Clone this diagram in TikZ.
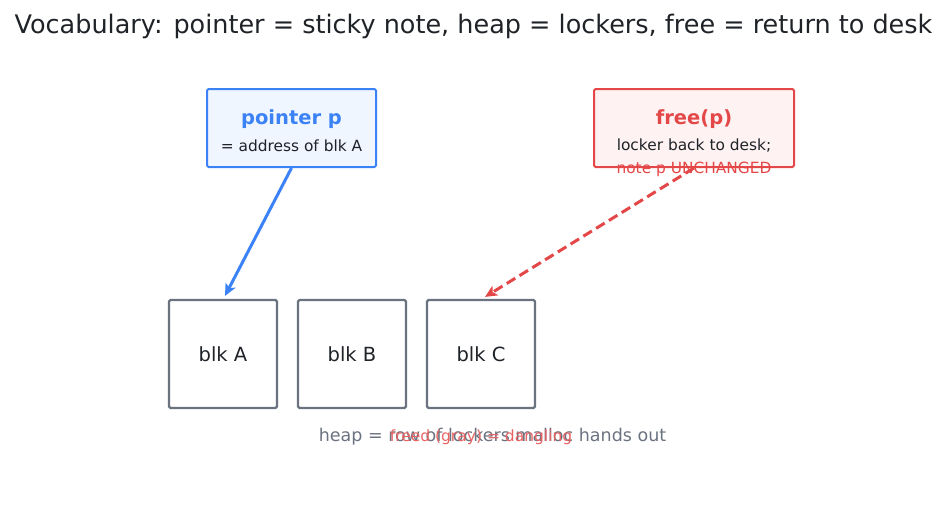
\documentclass[tikz,border=0pt]{standalone}
\usepackage{fontspec}
\setmainfont{DejaVu Sans}
\usetikzlibrary{arrows.meta,positioning,calc}
\definecolor{ptrblue}{HTML}{3B82F6}
\definecolor{ptrfill}{HTML}{EFF6FF}
\definecolor{freered}{HTML}{E44747}
\definecolor{freefill}{HTML}{FEF2F2}
\definecolor{blkgray}{HTML}{6B7280}
\definecolor{inkdark}{HTML}{1F2328}
\tikzset{
  notebox/.style={draw=ptrblue,fill=ptrfill,line width=2pt,rounded corners=1.5pt,
    minimum width=169pt,minimum height=78pt,inner sep=0pt},
  freebox/.style={draw=freered,fill=freefill,line width=2pt,rounded corners=1.5pt,
    minimum width=200pt,minimum height=78pt,inner sep=0pt},
  lockerbox/.style={draw=blkgray,line width=2.2pt,rounded corners=1.5pt,
    minimum width=108pt,minimum height=108pt,inner sep=0pt,
    font=\fontsize{19.5pt}{22pt}\selectfont,text=inkdark},
  boxtitle/.style={font=\fontsize{19.5pt}{22pt}\selectfont\bfseries,inner sep=0pt},
  boxtext/.style={font=\fontsize{15.4pt}{18pt}\selectfont,inner sep=0pt},
  pointsto/.style={-{Stealth[length=12pt,width=11pt,inset=3pt]},line width=3pt,draw=ptrblue},
  danglearrow/.style={-{Stealth[length=12pt,width=11pt,inset=3pt]},line width=3pt,draw=freered,
    dash pattern=on 10pt off 5pt}
}
\begin{document}
\begin{tikzpicture}[x=1pt,y=-1pt]
  \useasboundingbox (0,0) rectangle (947,512);
  \node[font=\fontsize{25.5pt}{29pt}\selectfont,text=inkdark,inner sep=0pt] (title) at (473.5,26)
    {Vocabulary: pointer = sticky note, heap = lockers, free = return to desk};
  % sticky note and the free() call
  \node[notebox] (ptr) at (291.5,128) {};
  \node[boxtitle,text=ptrblue] (ptrtitle) at (291.5,119) {pointer p};
  \node[boxtext,text=inkdark] (ptrsub) at (291.5,146) {= address of blk A};
  \node[freebox] (free) at (694,128) {};
  \node[boxtitle,text=freered] (freetitle) at (694,119) {free(p)};
  \node[boxtext,text=inkdark] (freesub) at (694,146) {locker back to desk;};
  \node[boxtext,text=freered] (freenote) at (694,169) {note p UNCHANGED};
  % the heap
  \node[lockerbox] (blka) at (223,354) {blk A};
  \node[lockerbox] (blkb) at (352,354) {blk B};
  \node[lockerbox] (blkc) at (481,354) {blk C};
  \draw[pointsto] (ptr.south) -- ($(blka.north)+(2,-3)$);
  \draw[danglearrow] (free.south) -- ($(blkc.north)+(4,-2)$);
  \node[font=\fontsize{17.5pt}{20pt}\selectfont,text=blkgray,inner sep=0pt] (heapnote) at (492.5,437)
    {heap = row of lockers malloc hands out};
  \node[font=\fontsize{15.5pt}{18pt}\selectfont,text=freered!85,inner sep=0pt] (dangle) at (481,437)
    {freed (gray) = dangling};
\end{tikzpicture}
\end{document}
